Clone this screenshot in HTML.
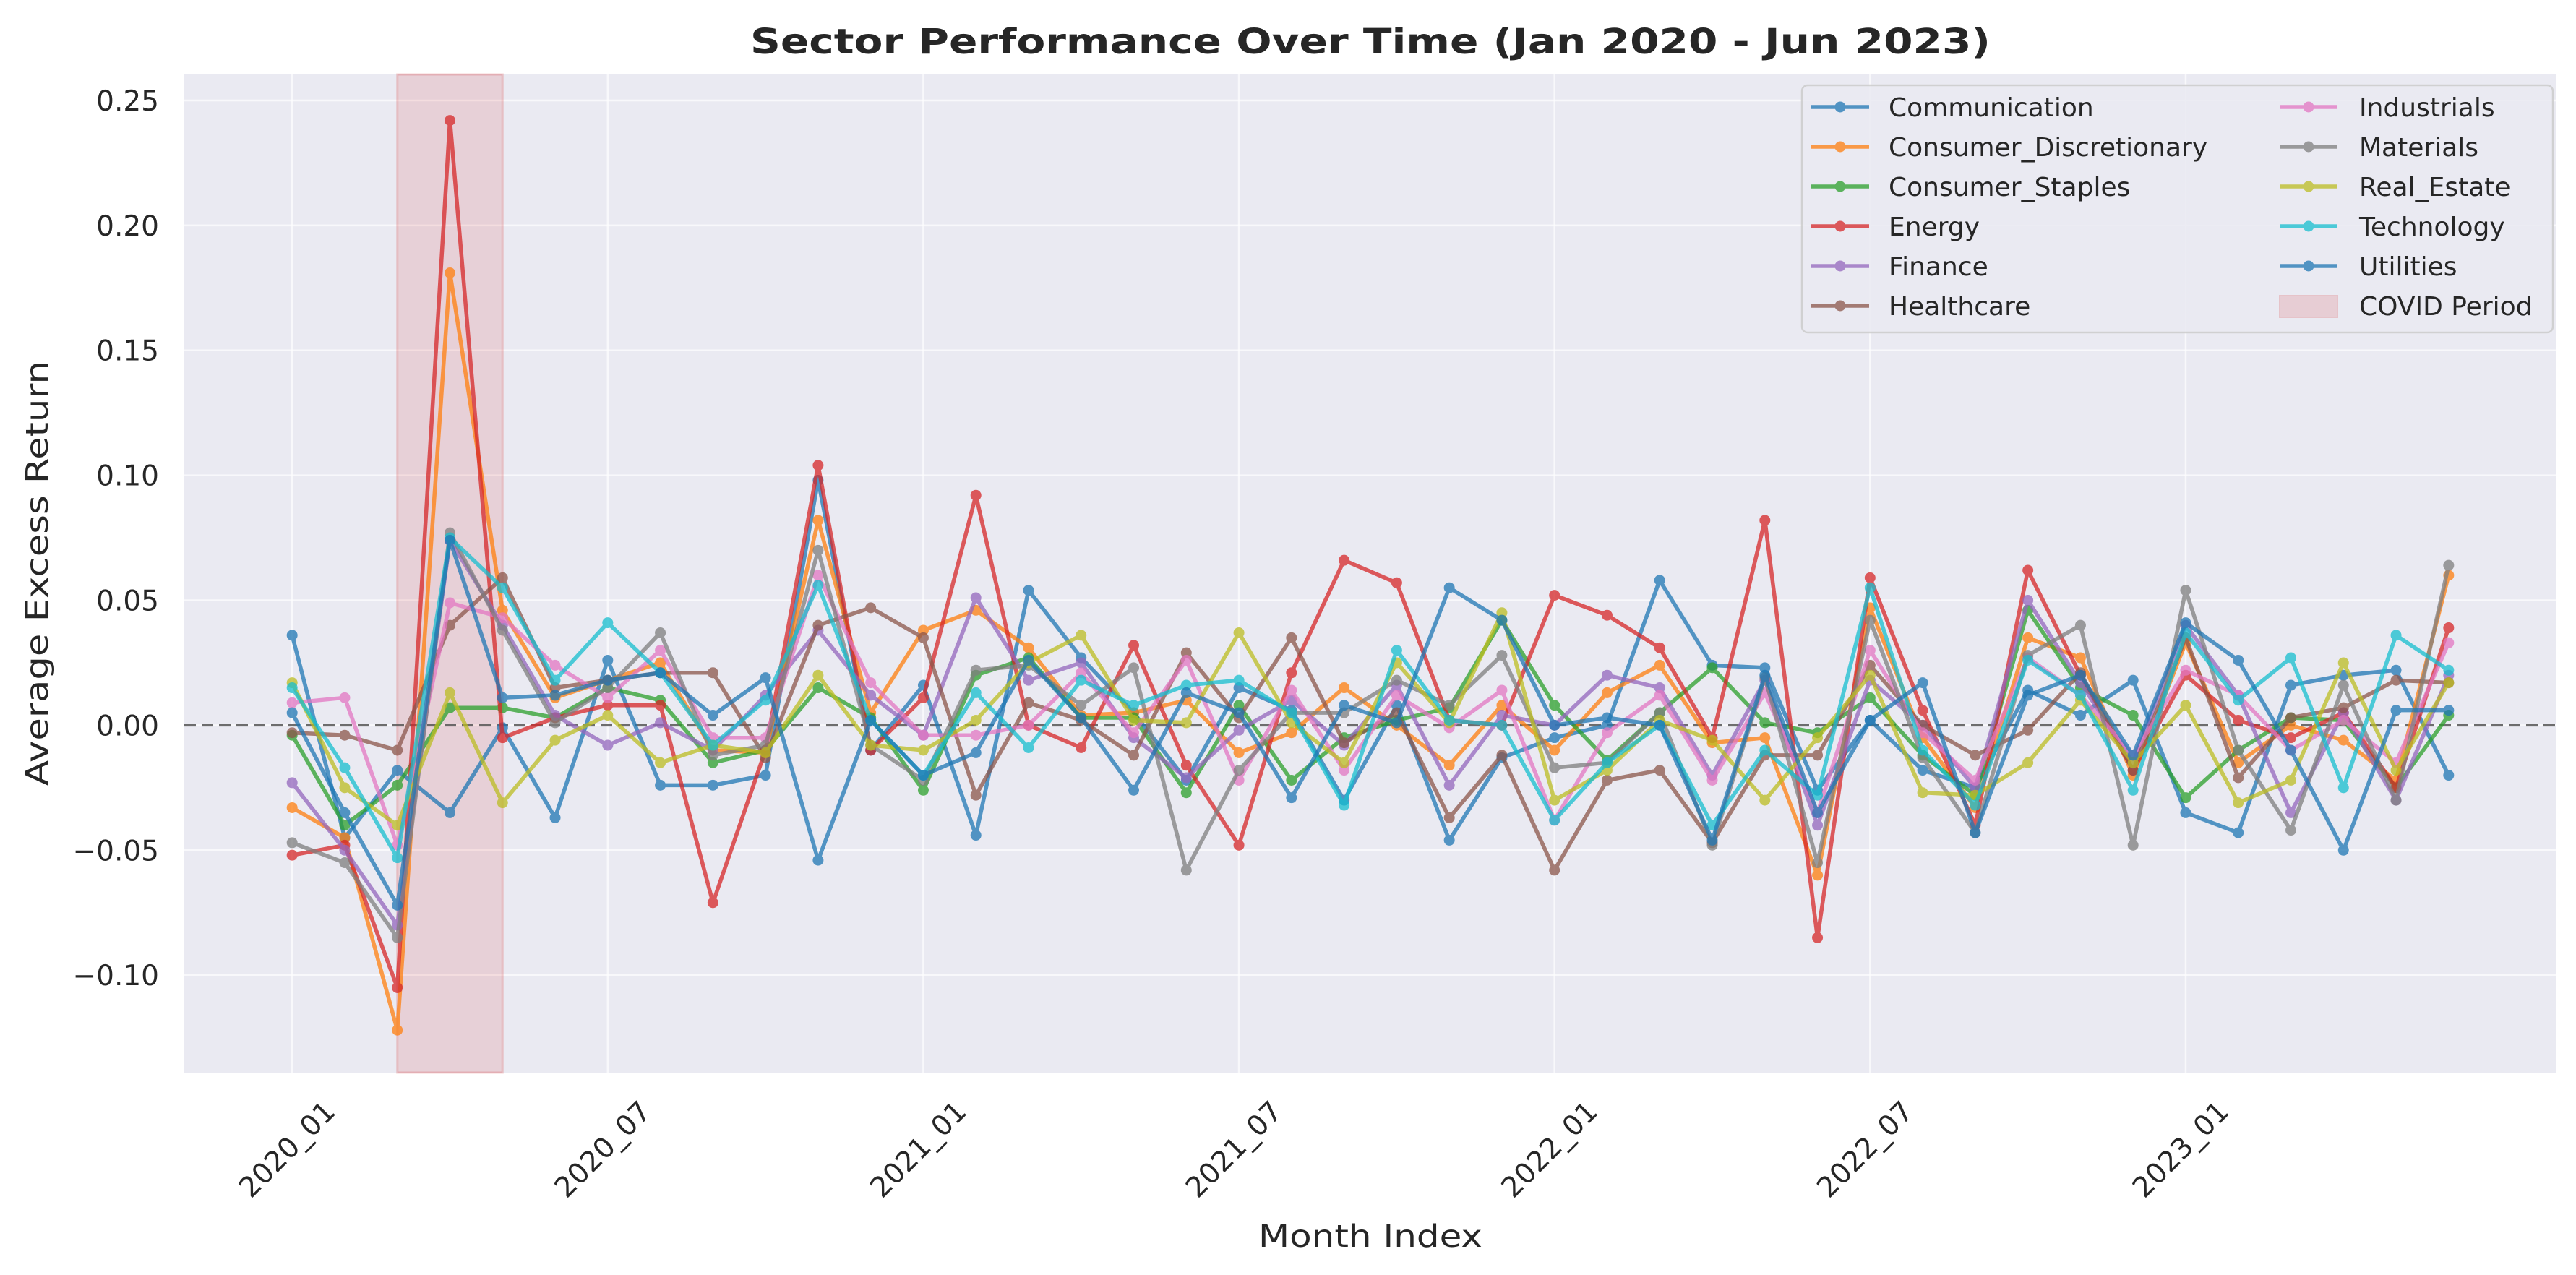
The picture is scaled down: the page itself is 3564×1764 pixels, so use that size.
<!DOCTYPE html>
<html><head><meta charset="utf-8"><style>
html,body{margin:0;padding:0;background:#fff}
svg{display:block;font-family:"DejaVu Sans","Liberation Sans",sans-serif}
</style></head><body>
<svg id="chart" width="3564" height="1764" viewBox="0 0 3564 1764" xmlns="http://www.w3.org/2000/svg">
<rect width="3564" height="1764" fill="#ffffff"/>
<rect x="255" y="103" width="3282" height="1381" fill="#eaeaf2"/>
<g id="grid"></g>
<g id="covid"></g>
<g id="zero"></g>
<g id="series"></g>
<g id="yticks"></g>
<g id="xticks"></g>
<text x="1896" y="74" text-anchor="middle" font-size="48" font-weight="bold" fill="#262626" textLength="1716" lengthAdjust="spacingAndGlyphs">Sector Performance Over Time (Jan 2020 - Jun 2023)</text>
<text x="1896" y="1725" text-anchor="middle" font-size="43" fill="#262626" textLength="310" lengthAdjust="spacingAndGlyphs">Month Index</text>
<text x="66" y="793" text-anchor="middle" font-size="43" fill="#262626" textLength="588" lengthAdjust="spacingAndGlyphs" transform="rotate(-90 66 793)">Average Excess Return</text>
<g id="legend"></g>
</svg>
<script>
const months = ["2020_01","2020_02","2020_03","2020_04","2020_05","2020_06","2020_07","2020_08","2020_09","2020_10","2020_11","2020_12","2021_01","2021_02","2021_03","2021_04","2021_05","2021_06","2021_07","2021_08","2021_09","2021_10","2021_11","2021_12","2022_01","2022_02","2022_03","2022_04","2022_05","2022_06","2022_07","2022_08","2022_09","2022_10","2022_11","2022_12","2023_01","2023_02","2023_03","2023_04","2023_05","2023_06"];
const xTickLabels = ["2020_01","2020_07","2021_01","2021_07","2022_01","2022_07","2023_01"];
const yTickValues = [-0.10,-0.05,0.00,0.05,0.10,0.15,0.20,0.25];
const sectorNames = ["Communication","Consumer_Discretionary","Consumer_Staples","Energy","Finance","Healthcare","Industrials","Materials","Real_Estate","Technology","Utilities"];
const communication = [0.036,-0.045,-0.018,-0.035,-0.001,-0.037,0.026,-0.024,-0.024,-0.020,0.098,-0.010,0.016,-0.044,0.054,0.027,0.005,-0.022,0.015,0.006,-0.030,0.008,-0.046,-0.013,-0.005,0.000,0.058,0.024,0.023,-0.026,0.002,-0.018,-0.025,0.014,0.004,0.018,-0.035,-0.043,0.016,0.020,0.022,-0.020];
const consumerDiscretionary = [-0.033,-0.045,-0.122,0.181,0.046,0.011,0.018,0.025,-0.010,-0.011,0.082,0.005,0.038,0.046,0.031,0.004,0.005,0.010,-0.011,-0.003,0.015,0.000,-0.016,0.008,-0.010,0.013,0.024,-0.007,-0.005,-0.060,0.047,-0.005,-0.033,0.035,0.027,-0.020,0.033,-0.015,0.000,-0.006,-0.022,0.060];
const consumerStaples = [-0.004,-0.040,-0.024,0.007,0.007,0.003,0.015,0.010,-0.015,-0.010,0.015,0.003,-0.026,0.020,0.027,0.003,0.003,-0.027,0.008,-0.022,-0.005,0.002,0.007,0.042,0.008,-0.014,0.005,0.023,0.001,-0.003,0.011,-0.012,-0.028,0.046,0.015,0.004,-0.029,-0.010,0.003,0.002,-0.025,0.004];
const energy = [-0.052,-0.048,-0.105,0.242,-0.005,0.003,0.008,0.008,-0.071,-0.010,0.104,-0.010,0.011,0.092,0.000,-0.009,0.032,-0.016,-0.048,0.021,0.066,0.057,0.002,0.000,0.052,0.044,0.031,-0.005,0.082,-0.085,0.059,0.006,-0.040,0.062,0.020,-0.018,0.020,0.002,-0.005,0.005,-0.025,0.039];
const finance = [-0.023,-0.050,-0.080,0.074,0.040,0.004,-0.008,0.001,-0.010,0.012,0.038,0.012,-0.004,0.051,0.018,0.025,-0.005,-0.021,-0.002,0.010,-0.008,0.016,-0.024,0.004,0.000,0.020,0.015,-0.020,0.018,-0.040,0.018,0.000,-0.025,0.050,0.017,-0.015,0.040,0.012,-0.035,0.005,-0.030,0.020];
const healthcare = [-0.003,-0.004,-0.010,0.040,0.059,0.015,0.018,0.021,0.021,-0.013,0.040,0.047,0.035,-0.028,0.009,0.002,-0.012,0.029,0.003,0.035,-0.007,0.005,-0.037,-0.012,-0.058,-0.022,-0.018,-0.047,-0.012,-0.012,0.024,0.000,-0.012,-0.002,0.021,-0.018,0.035,-0.021,0.003,0.007,0.018,0.017];
const industrials = [0.009,0.011,-0.048,0.049,0.043,0.024,0.011,0.030,-0.005,-0.005,0.060,0.017,-0.004,-0.004,0.000,0.021,-0.003,0.026,-0.022,0.014,-0.018,0.012,-0.001,0.014,-0.038,-0.003,0.012,-0.022,0.013,-0.035,0.030,-0.003,-0.022,0.027,0.012,-0.012,0.022,0.012,-0.010,0.002,-0.015,0.033];
const materials = [-0.047,-0.055,-0.085,0.077,0.038,0.001,0.015,0.037,-0.012,-0.008,0.070,-0.008,-0.022,0.022,0.024,0.008,0.023,-0.058,-0.018,0.005,0.005,0.018,0.008,0.028,-0.017,-0.015,0.005,-0.048,0.019,-0.055,0.042,-0.013,-0.043,0.028,0.040,-0.048,0.054,-0.010,-0.042,0.016,-0.030,0.064];
const realEstate = [0.017,-0.025,-0.040,0.013,-0.031,-0.006,0.004,-0.015,-0.008,-0.011,0.020,-0.008,-0.010,0.002,0.025,0.036,0.002,0.001,0.037,0.001,-0.015,0.025,0.001,0.045,-0.030,-0.018,0.002,-0.006,-0.030,-0.005,0.020,-0.027,-0.028,-0.015,0.010,-0.015,0.008,-0.031,-0.022,0.025,-0.018,0.017];
const technology = [0.015,-0.017,-0.053,0.075,0.055,0.018,0.041,0.021,-0.008,0.010,0.056,0.002,-0.020,0.013,-0.009,0.018,0.008,0.016,0.018,0.005,-0.032,0.030,0.002,0.000,-0.038,-0.015,0.000,-0.040,-0.010,-0.028,0.055,-0.010,-0.032,0.026,0.012,-0.026,0.037,0.010,0.027,-0.025,0.036,0.022];
const utilities = [0.005,-0.035,-0.072,0.074,0.011,0.012,0.018,0.021,0.004,0.019,-0.054,0.002,-0.020,-0.011,0.026,0.003,-0.026,0.013,0.005,-0.029,0.008,0.001,0.055,0.042,0.000,0.003,0.000,-0.046,0.020,-0.035,0.002,0.017,-0.043,0.012,0.020,-0.012,0.041,0.026,-0.010,-0.050,0.006,0.006];
const covidStart = 2, covidEnd = 4;

const seriesData = [communication,consumerDiscretionary,consumerStaples,energy,finance,healthcare,industrials,materials,realEstate,technology,utilities];
const colors = ["#1f77b4","#ff7f0e","#2ca02c","#d62728","#9467bd","#8c564b","#e377c2","#7f7f7f","#bcbd22","#17becf","#1f77b4"];
const NS = "http://www.w3.org/2000/svg";
const PL=255, PR=3537, PT=103, PB=1484;
const XMIN=-2.05, XMAX=months.length-1+2.05, YMIN=-0.139, YMAX=0.2604;
function xScale(i){return PL+(i-XMIN)/(XMAX-XMIN)*(PR-PL);}
function yScale(v){return PB-(v-YMIN)/(YMAX-YMIN)*(PB-PT);}
function mk(tag, attrs, parent){const e=document.createElementNS(NS,tag);for(const k in attrs)e.setAttribute(k,attrs[k]);parent.appendChild(e);return e;}
const g=id=>document.getElementById(id);

yTickValues.forEach(v=>{
  const l=mk('line',{x1:PL,x2:PR,y1:yScale(v),y2:yScale(v),stroke:'#ffffff','stroke-width':2.5,opacity:0.7},g('grid'));
  
  
  const t=mk('text',{x:PL-35,y:yScale(v)+14,'text-anchor':'end','font-size':39,fill:'#262626'},g('yticks'));
  t.textContent=(v<0?'\u2212':'')+Math.abs(v).toFixed(2);
  
  
});
xTickLabels.forEach(lab=>{
  const i=months.indexOf(lab); const x=xScale(i);
  const l=mk('line',{x1:x,x2:x,y1:PT,y2:PB,stroke:'#ffffff','stroke-width':2.5,opacity:0.7},g('grid'));
  
  
  const tx=x+62, ty=PB+56;
  const t=mk('text',{x:tx,y:ty,'text-anchor':'end','font-size':39,fill:'#262626',transform:`rotate(-45 ${tx} ${ty})`},g('xticks'));
  t.textContent=lab;
  
  
});
const cb=mk('rect',{x:xScale(covidStart),y:PT,width:xScale(covidEnd)-xScale(covidStart),height:PB-PT,fill:'rgba(214,39,40,0.13)',stroke:'rgba(214,39,40,0.2)','stroke-width':3},g('covid'));


const zl=mk('line',{x1:PL,x2:PR,y1:yScale(0),y2:yScale(0),stroke:'#555','stroke-width':3.5,'stroke-dasharray':'16 8',opacity:0.85},g('zero'));


seriesData.forEach((arr,si)=>{
  const grp=mk('g',{opacity:0.75},g('series'));
  
  
  const pts=arr.map((v,i)=>xScale(i).toFixed(1)+','+yScale(v).toFixed(1)).join(' ');
  const pl=mk('polyline',{points:pts,fill:'none',stroke:colors[si],'stroke-width':5.5,'stroke-linejoin':'round'},grp);
  
  
  arr.forEach((v,i)=>{
    const c=mk('circle',{cx:xScale(i),cy:yScale(v),r:7.5,fill:colors[si]},grp);
    
    
  });
});
const L=g('legend');
const box=mk('rect',{x:2493,y:118,width:1039,height:342,rx:8,fill:'#eaeaf2',stroke:'#cccccc','stroke-width':2.5,opacity:0.85},L);


const entries=sectorNames.concat(['COVID Period']);
entries.forEach((name,k)=>{
  const col=k<6?0:1, row=k%6;
  const lx=col===0?2506:3154, tx=col===0?2613:3264, cy=148+row*55;
  if(name==='COVID Period'){
    const r=mk('rect',{x:lx,y:cy-14,width:80,height:30,fill:'rgba(214,39,40,0.15)',stroke:'rgba(214,39,40,0.2)','stroke-width':2},L);
    
    
  } else {
    const gl=mk('g',{opacity:0.75},L);
    
    
    mk('line',{x1:lx,x2:lx+80,y1:cy,y2:cy,stroke:colors[k],'stroke-width':5.5},gl);
    mk('circle',{cx:lx+40,cy:cy,r:7.5,fill:colors[k]},gl);
  }
  const t=mk('text',{x:tx,y:cy+13,'font-size':36,fill:'#262626'},L);
  t.textContent=name;
  
  
});
</script>
</body></html>
